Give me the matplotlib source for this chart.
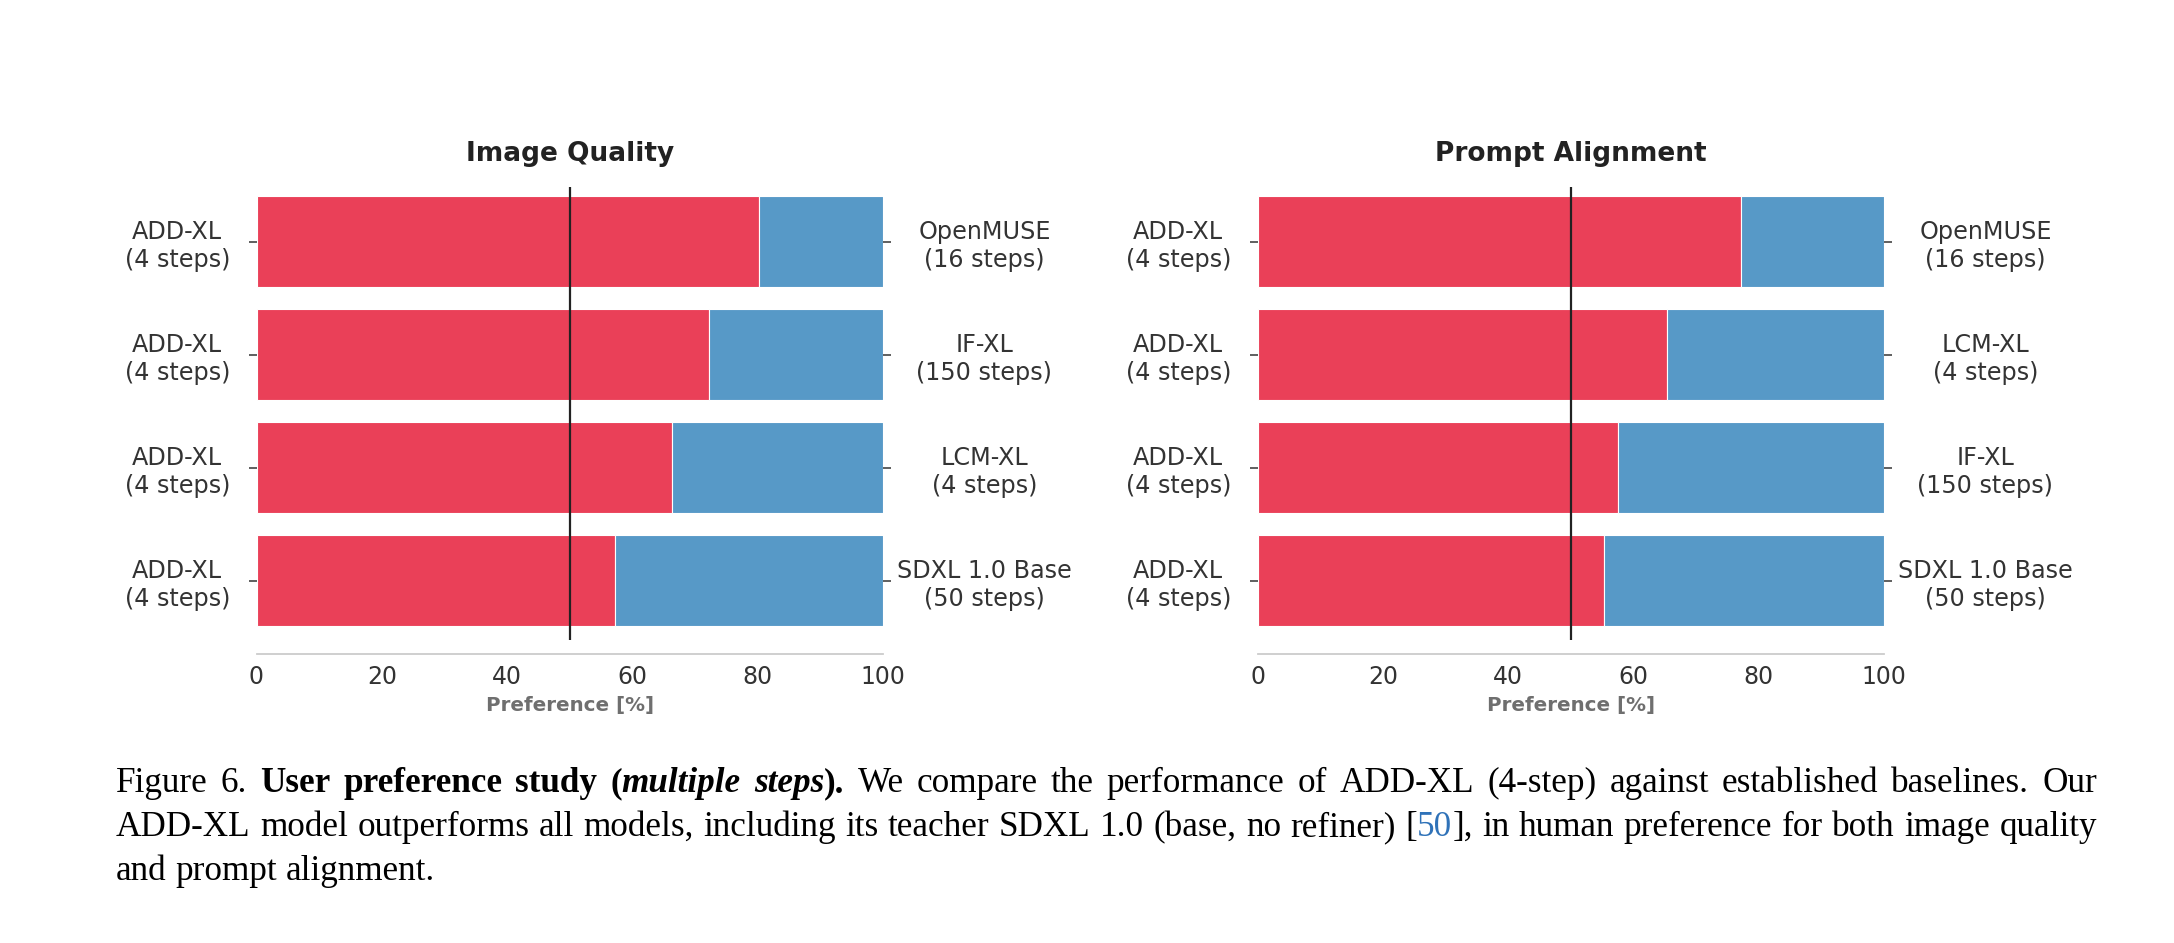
import matplotlib
matplotlib.use("Agg")
import matplotlib.pyplot as plt
import numpy as np

# ---------------- data ----------------
left_labels = ["ADD-XL\n(4 steps)"] * 4
iq_right_labels = ["OpenMUSE\n(16 steps)", "IF-XL\n(150 steps)", "LCM-XL\n(4 steps)", "SDXL 1.0 Base\n(50 steps)"]
iq_add = [80.2, 72.2, 66.4, 57.2]
pa_right_labels = ["OpenMUSE\n(16 steps)", "LCM-XL\n(4 steps)", "IF-XL\n(150 steps)", "SDXL 1.0 Base\n(50 steps)"]
pa_add = [77.1, 65.3, 57.6, 55.3]
titles = ["Image Quality", "Prompt Alignment"]
xticks = [0, 20, 40, 60, 80, 100]

RED = "#EA4058"
BLUE = "#5799C7"
TXT = "#333333"

W, H, DPI = 2174, 943, 100
plt.rcParams['font.family'] = ['DejaVu Sans']
fig = plt.figure(figsize=(W / DPI, H / DPI), dpi=DPI)

LBL_FS = 17.2

def panel(rect, title, add, rlabels):
    ax = fig.add_axes(rect)
    y = np.arange(len(add))
    add = np.array(add)
    ax.barh(y, add, height=0.8, color=RED, edgecolor="white", linewidth=0.8)
    ax.barh(y, 100 - add, left=add, height=0.8, color=BLUE, edgecolor="white", linewidth=0.8)
    ax.axvline(50, color="#222222", lw=1.6)
    ax.set_xlim(0, 100)
    ax.set_ylim(3.53, -0.48)
    for s in ["top", "left", "right"]:
        ax.spines[s].set_visible(False)
    ax.spines["bottom"].set_position(("outward", 9.5))
    ax.spines["bottom"].set_color("#cccccc")
    ax.spines["bottom"].set_linewidth(1.3)
    ax.set_xticks(xticks)
    ax.set_xticklabels([str(v) for v in xticks], fontsize=17, color=TXT)
    ax.tick_params(axis="x", length=0, pad=8)
    ax.set_yticks(y)
    ax.set_yticklabels(left_labels, fontsize=LBL_FS, color=TXT, ha="center", multialignment="center")
    ax.tick_params(axis="y", length=6, width=1.2, color="#444444", pad=51)
    ax2 = ax.twinx()
    ax2.set_ylim(ax.get_ylim())
    for s in ["top", "left", "right", "bottom"]:
        ax2.spines[s].set_visible(False)
    ax2.set_yticks(y)
    ax2.set_yticklabels(rlabels, fontsize=LBL_FS, color=TXT, ha="center", multialignment="center")
    ax2.tick_params(axis="y", length=6, width=1.2, color="#444444", pad=67)
    ax.set_title(title, fontsize=19, fontweight="bold", color="#222222", pad=19)
    ax.set_xlabel("Preference [%]", fontsize=14.3, fontweight="bold", color="#6f6f6f", labelpad=5)
    return ax

panel([256.5 / W, 0.3208, 626.5 / W, 0.4805], titles[0], iq_add, iq_right_labels)
panel([1257.5 / W, 0.3208, 626.5 / W, 0.4805], titles[1], pa_add, pa_right_labels)

# ---------------- caption ----------------
N = dict(weight="normal", style="normal")
B = dict(weight="bold", style="normal")
BI = dict(weight="bold", style="italic")
LINK = "#2f72b8"

def words(s, st=N):
    return [[(w, st, "black")] for w in s.split()]

line1 = (words("Figure 6.") + words("User preference study", B)
         + [[("(", B, "black"), ("multiple", BI, "black")], [("steps", BI, "black"), (").", B, "black")]]
         + words("We compare the performance of ADD-XL (4-step) against established baselines. Our"))
line2 = (words("ADD-XL model outperforms all models, including its teacher SDXL 1.0 (base, no refiner)")
         + [[("[", N, "black"), ("50", N, LINK), ("],", N, "black")]]
         + words("in human preference for both image quality"))
line3 = words("and prompt alignment.")

cap_left, cap_right = 116, 2097
renderer = fig.canvas.get_renderer()
SERIF = "Liberation Serif"

def make_line(tokens, ypix, fs):
    items = []
    for tok in tokens:
        segs = []
        for txt, st, col in tok:
            t = fig.text(0, 1 - ypix / H, txt, fontsize=fs, family=SERIF,
                         fontweight=st["weight"], fontstyle=st["style"], color=col,
                         va="baseline", ha="left")
            w = t.get_window_extent(renderer).width
            segs.append((t, w))
        items.append(segs)
    return items

def space_width(fs):
    a = fig.text(0, 0, "a b", fontsize=fs, family=SERIF)
    b = fig.text(0, 0, "ab", fontsize=fs, family=SERIF)
    sw = a.get_window_extent(renderer).width - b.get_window_extent(renderer).width
    a.remove(); b.remove()
    return sw

def natural(tokens, fs):
    tmp = make_line(tokens, 0, fs)
    nat = sum(w for segs in tmp for _, w in segs) + space_width(fs) * (len(tmp) - 1)
    for segs in tmp:
        for t, _ in segs:
            t.remove()
    return nat

# fit font size so the widest full line with normal spacing fills the text width
fs0 = 21
nat = max(natural(line1, fs0), natural(line2, fs0))
cap_fs = fs0 * (cap_right - cap_left) / nat * 0.99

def draw_line(tokens, ypix, justify):
    items = make_line(tokens, ypix, cap_fs)
    widths = [sum(w for _, w in segs) for segs in items]
    if justify and len(items) > 1:
        gap = (cap_right - cap_left - sum(widths)) / (len(items) - 1)
    else:
        gap = space_width(cap_fs)
    x = cap_left
    for segs, tw in zip(items, widths):
        xx = x
        for t, w in segs:
            t.set_x(xx / W)
            xx += w
        x += tw + gap

draw_line(line1, 792, True)
draw_line(line2, 836, True)
draw_line(line3, 880, False)

fig.savefig("out.png", dpi=DPI)
